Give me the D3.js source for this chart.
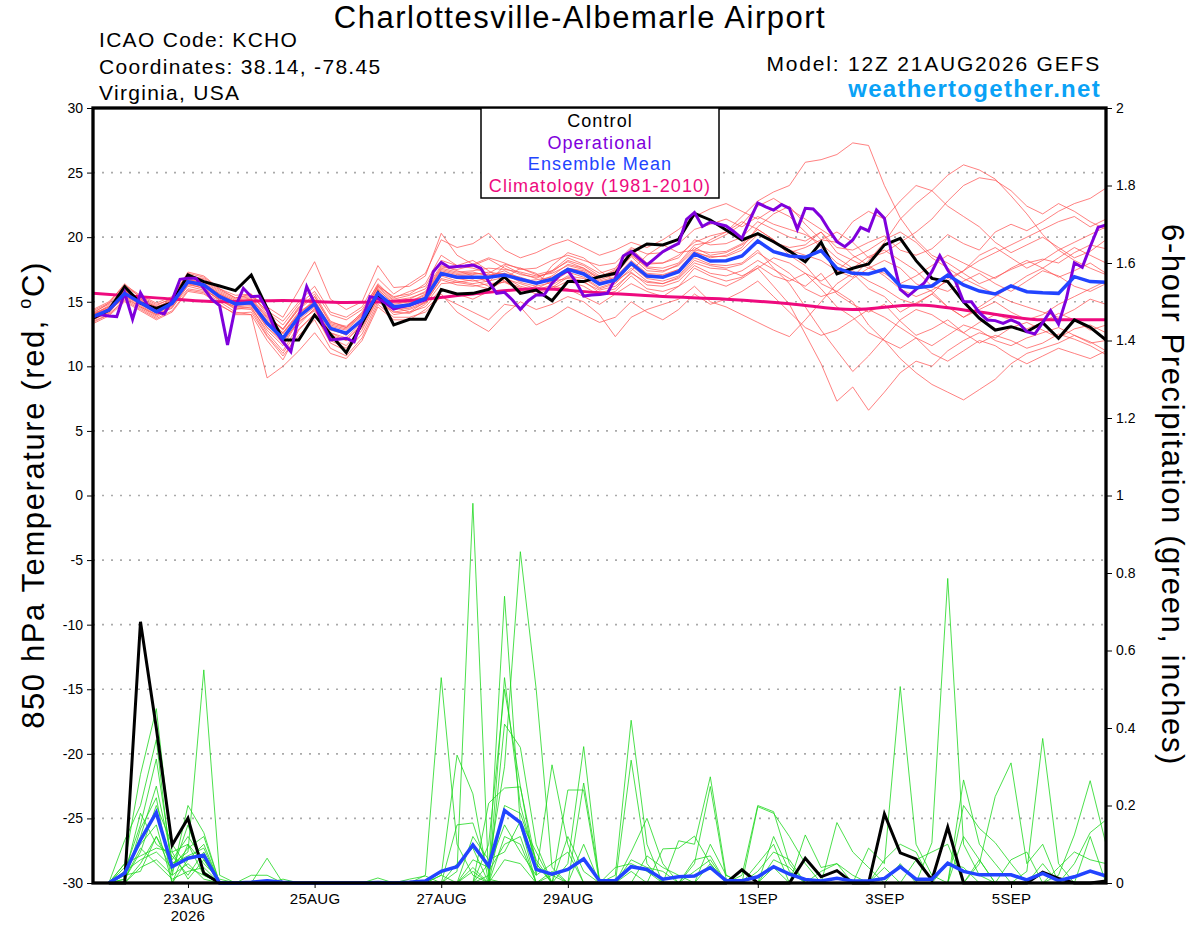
<!DOCTYPE html>
<html>
<head>
<meta charset="utf-8">
<title>KCHO GEFS meteogram</title>
<script src="https://d3js.org/d3.v7.min.js"></script>
<style>
  body { margin: 0; background: #fff; }
  svg text { font-family: "Liberation Sans", Arial, Helvetica, sans-serif; }
</style>
</head>
<body>
<svg id="chart" width="1200" height="927"></svg>
<script>
// ---- data ----
// 6-hourly from 12Z 21AUG2026 to 12Z 06SEP2026 (65 steps), operational 3-hourly (129 steps)
var tempTicks = [-30, -25, -20, -15, -10, -5, 0, 5, 10, 15, 20, 25, 30];
var precTicks = [0, 0.2, 0.4, 0.6, 0.8, 1, 1.2, 1.4, 1.6, 1.8, 2];
var dateTicks = ["2026-08-23", "2026-08-25", "2026-08-27", "2026-08-29", "2026-09-01", "2026-09-03", "2026-09-05"];

var controlTemp = [13.72,14.36,16.17,14.88,14.49,14.93,17.07,16.56,16.22,15.86,
  17.07,14.49,12.04,12.04,13.97,12.48,11.06,13.33,15.65,13.2,
  13.64,13.64,15.94,15.6,15.65,15.96,16.94,15.65,15.9,15.08,
  16.56,16.56,16.94,17.2,18.8,19.47,19.4,19.83,21.84,21.33,
  20.56,19.78,20.28,19.65,18.92,18.1,19.6,17.15,17.59,17.92,
  19.4,19.91,18.18,16.81,16.56,15.0,13.72,12.81,13.07,12.68,
  13.38,12.17,13.59,13.02,12.04];

var meanTemp = [13.85,14.36,15.65,14.93,14.23,14.88,16.56,16.3,15.39,14.83,
  14.93,13.33,12.17,13.85,14.83,12.94,12.56,13.59,15.65,14.62,
  14.75,15.26,17.18,16.9,16.89,16.89,17.07,16.74,16.43,16.74,
  17.51,17.15,16.37,16.68,17.98,16.99,16.89,17.33,18.7,18.15,
  18.18,18.54,19.7,18.88,18.54,18.44,18.96,17.59,17.2,17.15,
  17.51,16.22,16.09,16.22,17.07,16.3,15.83,15.6,16.22,15.78,
  15.7,15.65,16.94,16.56,16.51];

var operTemp = [13.85,14.0,13.9,13.85,15.7,13.64,15.7,14.62,14.23,14.05,
  15.14,16.74,16.81,16.81,16.04,15.19,14.7,11.65,14.62,16.04,
  15.39,15.44,14.36,12.81,11.9,11.13,13.85,16.17,14.88,13.33,
  12.04,12.1,12.17,11.9,13.59,15.39,15.26,14.88,14.44,14.62,
  14.75,14.93,15.14,17.33,18.05,17.67,17.72,17.77,17.85,17.59,
  16.56,15.65,15.73,15.14,14.41,15.08,15.52,15.52,16.43,17.07,
  17.41,16.56,15.44,15.52,15.57,15.65,16.81,18.54,18.88,18.36,
  17.85,18.36,18.88,19.21,19.52,21.38,21.9,20.82,21.17,21.02,
  20.87,20.42,19.91,21.33,22.65,22.35,22.1,22.53,22.23,20.61,
  22.23,22.18,21.54,20.56,19.65,19.26,19.78,20.76,20.48,22.1,
  21.46,18.49,15.96,15.44,15.96,16.43,17.33,18.57,17.46,16.56,
  15.0,15.0,14.15,13.59,13.54,13.33,13.59,13.33,12.68,12.5,
  13.38,14.31,13.28,15.26,18.02,17.67,19.26,20.76,20.95];

// daily (12Z) climatology
var climTemp = [15.65,15.3,15.0,15.1,14.95,15.1,15.6,16.0,15.7,15.4,15.2,14.85,14.4,14.75,14.2,13.6,13.6];

var tempMembers = [
  [14.2,14.8,16.0,15.2,14.6,15.1,17.0,16.8,15.9,15.3, 15.6,14.0,12.8,14.5,15.6,13.5,13.0,14.2,16.4,15.2,
   15.5,16.0,17.8,17.4,17.0,16.5,17.8,17.2,16.8,17.4, 18.1,17.6,16.9,17.5,18.8,17.9,18.0,18.6,19.6,20.1,
   20.4,21.6,22.8,23.5,24.0,25.8,26.0,26.4,27.3,27.1, 24.0,21.5,19.8,18.6,18.0,17.2,16.4,16.9,17.5,18.0,
   18.3,18.0,18.8,19.4,19.1],
  [13.5,14.0,15.2,14.5,13.8,14.6,16.0,15.8,15.0,14.2, 14.0,12.0,10.5,12.8,14.1,11.8,11.2,12.5,15.0,14.2,
   14.1,14.8,16.4,16.5,16.7,16.2,16.8,16.4,16.0,16.6, 16.8,16.5,15.9,16.2,17.2,16.5,16.4,16.8,18.0,17.6,
   17.5,17.0,17.6,16.2,14.8,12.5,10.2,7.3,8.4,6.6, 8.0,9.5,10.4,10.0,11.2,12.0,12.6,12.2,13.0,13.4,
   12.8,12.2,12.9,13.2,12.6],
  [14.0,14.6,15.9,15.0,14.5,15.0,16.8,16.4,15.6,15.0, 15.2,13.7,12.6,14.0,15.2,13.0,12.4,13.8,15.9,14.9,
   15.0,15.6,17.5,17.2,17.3,17.0,17.4,16.8,16.5,17.0, 17.9,17.6,16.7,17.1,18.5,17.4,17.3,17.9,19.2,18.6,
   18.8,19.4,20.3,19.6,19.0,18.6,18.2,17.4,16.9,18.2, 19.6,21.4,22.6,23.6,24.8,25.6,25.2,24.5,23.2,21.8,
   20.2,19.0,18.2,17.6,17.1],
  [13.6,14.2,15.5,14.7,14.0,14.5,16.3,16.1,15.1,14.6, 14.5,12.8,11.6,13.5,14.3,12.4,12.0,13.3,15.5,14.4,
   14.5,15.0,17.0,16.6,16.4,16.6,16.9,16.2,15.9,16.3, 17.0,16.8,16.0,16.4,17.6,16.6,16.4,16.9,18.2,17.8,
   17.6,17.9,18.8,18.0,17.2,16.0,15.4,15.8,15.0,13.2, 12.0,10.6,9.5,8.6,8.0,7.4,8.2,9.0,10.2,11.0,
   11.4,11.8,12.4,11.9,11.2],
  [14.4,15.0,16.3,15.5,14.9,15.4,17.2,16.9,16.0,15.5, 15.6,14.2,13.2,14.8,15.8,14.0,13.6,14.4,16.3,15.3,
   15.8,16.2,18.2,17.8,17.6,17.2,17.9,17.6,17.1,17.4, 18.4,17.9,17.2,17.6,19.1,18.0,18.0,18.4,19.8,19.4,
   19.5,20.0,21.2,20.6,20.0,19.7,20.4,19.2,19.0,19.6, 20.1,19.0,18.6,19.1,20.2,19.5,19.0,20.4,21.0,20.5,
   21.2,22.0,22.6,23.0,23.8],
  [13.8,14.3,15.4,14.6,13.9,14.7,16.2,15.9,15.2,14.4, 14.6,12.6,11.2,13.2,14.5,12.2,11.6,13.0,15.3,14.0,
   14.2,15.0,16.7,16.3,16.2,16.4,16.5,16.0,15.8,16.1, 16.9,16.6,15.7,16.0,17.3,16.3,16.2,16.6,17.8,17.2,
   17.0,17.4,18.2,17.5,16.8,16.2,17.2,15.6,14.8,14.2, 14.8,13.5,12.4,12.9,13.6,12.6,11.8,12.4,12.0,11.4,
   11.8,12.5,12.1,11.6,10.9],
  [13.3,13.9,15.0,14.3,13.6,14.2,15.8,15.6,14.8,14.0, 14.0,9.1,10.0,11.2,12.6,11.0,10.6,12.0,14.6,13.6,
   13.6,14.4,15.6,14.2,13.4,12.7,14.0,15.0,14.4,14.8, 15.4,15.0,14.0,12.3,13.8,14.4,14.8,15.2,16.2,15.0,
   14.6,14.0,13.4,12.8,12.3,13.6,15.0,16.4,17.2,16.0, 15.4,14.2,14.9,15.6,14.6,13.8,14.4,15.0,14.2,13.6,
   14.0,14.8,15.4,16.0,16.6],
  [14.3,14.9,16.4,15.3,14.7,15.3,17.3,17.0,16.0,15.3, 15.5,14.6,13.8,15.9,18.1,15.2,14.4,15.0,17.8,16.1,
   16.2,17.0,20.3,18.6,17.9,18.4,18.0,17.5,17.6,18.2, 18.6,18.2,17.8,18.0,19.2,18.7,18.8,19.5,20.6,21.0,
   21.4,20.8,21.6,21.0,20.6,20.2,19.5,18.4,17.6,18.5, 19.0,18.2,17.4,16.2,15.8,16.6,17.2,16.4,15.8,16.6,
   17.4,17.0,16.2,15.8,16.4],
  [13.9,14.5,15.8,15.1,14.3,14.8,16.5,16.2,15.5,14.9, 15.0,13.4,12.3,13.8,14.9,12.8,12.5,13.7,15.6,14.6,
   14.9,15.4,17.3,17.0,17.1,17.3,17.1,16.6,16.7,16.9, 17.6,17.3,16.5,16.8,18.1,17.1,17.0,17.5,18.9,18.4,
   18.6,19.2,20.8,21.8,22.4,21.0,19.8,19.6,21.2,22.0, 21.4,22.8,24.0,23.6,22.4,21.6,20.8,19.6,18.8,19.4,
   20.0,19.2,18.4,18.9,19.8],
  [13.7,14.1,15.6,14.8,14.1,14.9,16.7,16.4,15.3,14.7, 14.8,13.0,11.8,13.6,14.6,12.6,12.2,13.4,15.8,14.5,
   14.6,15.2,17.1,16.8,16.6,16.8,17.2,16.5,16.2,16.5, 17.3,16.9,16.1,16.5,17.8,16.8,16.6,17.0,18.4,17.9,
   17.8,18.0,19.0,17.6,16.4,14.6,12.8,11.2,9.6,10.8, 12.2,13.6,14.4,14.0,13.2,12.6,13.4,14.0,13.6,12.9,
   13.4,14.1,13.6,12.8,13.2],
  [14.1,14.6,15.7,15.0,14.4,14.9,16.6,16.2,15.5,14.9, 15.1,13.5,12.5,14.1,15.0,13.1,12.8,13.9,16.0,14.8,
   15.0,15.5,17.4,17.1,17.2,17.1,17.2,16.9,16.5,16.8, 17.6,17.4,16.6,16.9,18.2,17.2,17.1,17.5,18.8,18.5,
   18.5,19.0,20.2,19.6,19.2,19.4,20.4,18.8,18.2,17.6, 17.2,16.4,17.0,17.8,18.6,18.0,17.4,16.8,17.6,18.2,
   17.6,16.9,17.4,18.0,17.2],
  [13.9,14.4,15.6,14.9,14.3,15.0,16.7,16.5,15.6,15.0, 15.2,13.8,12.9,14.4,15.4,13.4,13.1,14.1,16.1,15.0,
   15.2,15.8,17.7,17.5,17.8,18.3,17.6,17.1,16.9,17.3, 18.2,17.8,17.0,17.3,18.6,17.7,17.6,18.0,19.4,19.6,
   20.2,21.0,22.4,23.0,22.2,21.4,20.6,19.8,18.6,17.8, 17.0,16.0,15.4,15.9,16.6,17.4,18.2,18.8,19.4,20.0,
   20.6,21.2,21.6,20.8,21.4],
  [13.6,14.3,15.3,14.6,14.0,14.8,16.4,16.0,15.1,14.5, 14.4,12.4,11.0,12.9,14.0,12.0,11.4,12.8,15.2,14.2,
   14.4,14.9,16.8,16.5,16.3,16.0,16.6,16.1,15.6,16.0, 16.6,16.2,15.5,15.8,17.0,16.0,15.8,16.2,17.6,17.0,
   16.6,16.9,17.8,17.0,16.6,17.2,16.0,14.6,13.8,12.6, 12.0,11.4,12.2,11.0,10.4,11.2,12.0,11.6,10.8,10.2,
   10.8,11.4,11.0,10.6,11.2],
  [14.0,14.7,15.8,15.1,14.5,15.2,16.9,16.6,15.7,15.1, 15.3,13.9,12.9,14.6,15.4,13.3,13.0,14.0,16.2,15.1,
   15.3,15.7,17.6,17.3,17.4,17.6,17.5,17.3,17.0,17.2, 17.8,17.5,16.8,17.4,18.7,17.6,17.4,17.8,19.0,18.8,
   18.9,19.5,20.6,19.8,18.8,19.2,19.8,20.4,19.6,18.4, 18.8,19.6,20.4,21.4,22.8,24.0,24.6,24.4,23.6,22.4,
   21.8,22.6,22.0,21.2,20.6],
  [14.1,14.9,16.2,15.4,14.8,15.2,17.1,16.7,15.8,15.2, 15.4,14.3,13.5,15.0,16.2,14.2,13.8,14.6,16.8,15.6,
   16.4,17.2,19.8,19.2,19.5,20.3,19.0,18.4,18.8,19.4, 19.8,19.2,18.6,19.0,19.6,19.2,19.8,20.6,21.6,22.2,
   22.6,22.0,21.4,22.2,21.6,20.4,19.2,18.0,17.4,16.6, 16.0,15.2,14.8,15.6,16.8,17.4,18.6,19.2,18.4,17.6,
   18.2,19.0,19.6,20.2,20.8],
  [13.4,14.0,15.1,14.4,13.7,14.3,15.9,15.7,14.7,14.1, 14.2,12.3,10.8,12.4,13.6,11.4,10.8,12.2,14.8,13.8,
   13.8,14.2,15.4,14.8,14.2,13.6,14.8,14.6,13.2,13.8, 14.6,14.0,13.4,13.8,15.0,14.2,13.6,14.4,15.6,14.8,
   15.2,15.8,16.6,15.4,14.2,13.0,12.4,12.8,13.6,14.4, 13.8,13.0,12.2,11.6,12.4,13.2,12.8,12.0,11.6,12.2,
   12.6,13.0,12.4,11.8,12.0],
  [14.0,14.5,15.9,15.2,14.6,15.0,16.6,16.4,15.4,14.8, 14.9,13.6,12.6,14.2,15.0,13.2,12.9,14.0,16.2,15.4,
   15.6,16.4,18.6,17.8,18.2,17.4,16.6,15.8,16.2,17.8, 18.8,18.4,17.4,16.6,17.4,18.6,19.4,18.8,19.0,19.8,
   20.4,21.2,20.6,19.8,18.6,17.8,16.4,15.8,16.8,17.6, 18.2,17.6,16.4,15.8,14.6,13.8,14.6,15.4,16.2,17.0,
   17.6,18.4,19.2,18.6,18.0],
  [13.6,14.2,15.4,14.9,14.2,14.7,16.4,16.2,15.2,14.6, 14.7,13.0,12.0,13.4,14.4,12.6,12.0,13.2,15.4,14.6,
   14.2,14.6,16.0,15.6,15.2,15.8,16.8,17.6,17.2,16.2, 16.0,15.4,14.8,15.6,16.4,15.8,15.4,16.2,17.0,16.6,
   16.2,16.8,17.6,18.4,18.0,17.2,16.6,17.4,18.4,19.0, 19.8,20.4,19.6,18.4,17.6,16.8,16.2,15.6,15.0,14.6,
   14.2,13.8,14.4,15.2,14.8]
];

// 6-hour precipitation (inches); first step has no accumulation
var controlPrec = [null,0,0,0.674,0.40,0.098,0.167,0.025,0,0,0,0,0,
  0,0,0,0,0,0,0,0,0,0,0,0,0,
  0,0,0,0,0,0,0,0,0,0,0,0,0,
  0,0,0.034,0,0,0,0.064,0.016,0.032,0,0,0.178,0.078,
  0.062,0.008,0.144,0,0,0,0,0,0.028,0.012,0,0,0.005];

var meanPrec = [null,0,0.025,0.111,0.182,0.042,0.064,0.072,0,0,0.002,0.006,0.002,
  0,0,0,0,0,0.001,0,0.002,0.005,0.03,0.042,0.098,0.044,
  0.187,0.156,0.035,0.023,0.035,0.062,0.006,0.006,0.042,0.035,0.01,0.016,0.018,
  0.04,0.006,0.006,0.016,0.042,0.023,0.009,0.005,0.012,0.005,0.005,0.012,0.042,
  0.01,0.01,0.051,0.03,0.021,0.021,0.021,0.008,0.025,0.006,0.016,0.031,0.018];

var precMembers = [
  [null,0,0.05,0.28,0.45,0.08,0.1,0.05,0.01,0,0,0,0,
   0,0,0,0,0,0,0,0,0.02,0.53,0.1,0.02,0,
   0,0,0,0,0,0,0,0.02,0.42,0.1,0,0,0,
   0,0,0,0,0,0,0.124,0.04,0.05,0.02,0,0,0,
   0,0,0,0,0,0,0,0,0,0,0,0,0],
  [null,0,0.11,0.2,0.37,0.02,0.2,0.13,0,0,0,0,0.01,
   0,0,0,0,0,0,0,0,0,0,0.03,0.98,0.01,
   0,0,0,0,0,0,0,0,0.317,0.05,0,0,0,
   0,0,0,0,0,0,0,0,0.156,0.08,0.04,0,0,
   0,0,0,0,0,0,0,0,0,0,0,0,0],
  [null,0,0.03,0.15,0.32,0.05,0.08,0.55,0.02,0,0,0,0,
   0,0,0,0,0,0,0,0,0,0,0,0,0.02,
   0.74,0.15,0,0,0,0,0,0,0.08,0.167,0.05,0,0,
   0,0,0,0,0,0,0,0,0,0,0.09,0.05,0.507,
   0.1,0.02,0,0,0,0,0,0,0,0,0,0,0],
  [null,0,0.02,0.12,0.25,0.06,0.12,0.06,0,0,0,0,0,
   0,0,0,0,0,0,0,0,0,0,0,0,0.05,
   0.3,0.855,0.5,0.04,0,0,0,0,0,0,0.088,0.09,0.121,
   0.05,0,0,0,0,0,0,0,0,0,0,0,0,
   0,0.104,0.786,0.1,0.02,0,0,0,0,0,0,0,0],
  [null,0,0.01,0.08,0.2,0.1,0.04,0.02,0,0,0,0.064,0,
   0,0,0,0,0,0,0,0,0,0.02,0.33,0.23,0,
   0.53,0.2,0.05,0,0,0,0,0,0,0,0,0.109,0.1,
   0.274,0.02,0,0,0,0,0,0,0,0,0,0,0,
   0,0,0,0.266,0.1,0.05,0,0,0,0,0,0,0],
  [null,0,0.04,0.1,0.15,0,0.06,0.1,0,0,0,0,0,
   0,0,0,0,0,0,0,0,0,0,0,0,0.1,
   0.5,0.25,0.02,0.305,0.1,0,0,0,0,0,0,0,0.05,
   0.249,0.01,0,0,0,0,0,0,0,0,0,0,0,
   0,0,0,0.2,0.141,0.104,0.05,0,0,0,0,0,0],
  [null,0,0,0.05,0.12,0.03,0.15,0.03,0,0,0.02,0.02,0,
   0,0,0,0,0,0,0,0,0,0,0,0,0,
   0.41,0.35,0.1,0,0.05,0.352,0,0,0,0,0,0,0,
   0,0,0.02,0.2,0.184,0.05,0,0,0,0,0,0,0,
   0,0,0,0,0.05,0.223,0.31,0.05,0.1,0,0,0,0],
  [null,0,0.02,0.18,0.1,0.07,0.02,0.08,0,0,0,0,0,
   0,0,0,0,0,0,0,0,0,0,0,0,0.206,
   0.245,0.248,0.05,0,0.24,0.24,0,0,0,0,0,0,0,
   0,0,0,0.197,0.18,0.12,0.05,0,0,0,0,0,0,
   0,0,0,0,0,0,0,0.03,0.373,0.05,0,0,0],
  [null,0,0.03,0.06,0.08,0.04,0.09,0.12,0,0,0,0,0,
   0,0,0,0,0,0.013,0,0,0,0,0.15,0.155,0.03,
   0.1,0.12,0,0,0,0.258,0.01,0,0.06,0.04,0.03,0,0,
   0.05,0,0,0,0,0,0,0,0,0,0,0,0,
   0,0,0,0,0,0,0,0,0,0.02,0.124,0.264,0.1],
  [null,0,0,0.04,0.06,0.02,0.05,0.01,0,0,0,0,0,
   0,0,0,0,0,0,0,0,0,0,0,0.06,0.04,
   0.15,0.08,0.02,0.05,0.08,0,0,0,0,0.07,0.04,0.02,0,
   0,0,0,0.05,0.1,0,0,0,0,0,0,0,0,
   0,0,0,0,0,0,0,0,0,0,0.05,0.13,0.163],
  [null,0,0.01,0.09,0.05,0.01,0.03,0.04,0,0,0,0,0,
   0,0,0,0,0,0,0,0.01,0.018,0,0.05,0.09,0,
   0.2,0.18,0.06,0,0.12,0.03,0,0,0.03,0,0,0,0.06,
   0.07,0,0,0,0.06,0.04,0,0,0,0,0,0.06,0.1,
   0.08,0,0.05,0.04,0,0,0,0,0,0,0,0,0],
  [null,0,0.02,0.03,0.12,0.05,0.07,0.09,0,0,0,0,0,
   0,0,0,0,0,0,0,0,0,0.02,0,0.04,0,
   0.12,0.1,0,0.02,0,0.1,0,0.04,0.05,0.03,0,0,0,
   0,0,0,0.03,0.08,0.06,0,0,0,0,0,0,0,
   0.06,0.08,0.1,0,0.06,0,0,0,0.05,0,0,0,0],
  [null,0,0,0.14,0.22,0,0.1,0.02,0,0,0,0,0,
   0,0,0,0,0,0,0,0,0,0,0,0.12,0.06,
   0.08,0.16,0.08,0,0,0,0,0,0,0,0,0,0,
   0.1,0.02,0,0,0.04,0,0,0.03,0.05,0,0,0.04,0,
   0,0,0,0,0,0,0.06,0.08,0,0,0,0.12,0],
  [null,0,0.05,0.07,0.09,0.08,0.01,0.06,0,0,0,0,0,
   0,0,0,0,0,0,0,0,0,0,0,0.03,0,
   0.06,0.05,0,0.03,0,0,0,0,0,0,0,0,0.03,
   0.06,0,0,0,0.12,0.03,0,0,0,0,0,0,0.05,
   0,0,0,0.12,0.06,0,0,0,0,0.04,0.08,0.06,0.05]
];

// ---- layout ----
var svg = d3.select("#chart");
var plotL = 93, plotR = 1106, plotT = 108, plotB = 883;

var t0 = new Date(Date.UTC(2026, 7, 21, 12));
var t1 = new Date(Date.UTC(2026, 8, 6, 12));
var times6 = d3.utcHour.every(6).range(t0, d3.utcHour.offset(t1, 1));
var times3 = d3.utcHour.every(3).range(t0, d3.utcHour.offset(t1, 1));
var timesDaily = times6.filter(function(d, i) { return i % 4 === 0; });

var x = d3.scaleUtc().domain([t0, t1]).range([plotL, plotR]);
var yT = d3.scaleLinear().domain([-30, 30]).range([plotB, plotT]);
var yP = d3.scaleLinear().domain([0, 2]).range([plotB, plotT]);

svg.append("rect").attr("width", 1200).attr("height", 927).attr("fill", "#fff");

// grid lines (dotted)
svg.append("g").selectAll("line")
  .data(tempTicks.slice(1, -1))
  .enter().append("line")
  .attr("x1", plotL).attr("x2", plotR)
  .attr("y1", function(d) { return yT(d); })
  .attr("y2", function(d) { return yT(d); })
  .attr("stroke", "#aaa").attr("stroke-width", 1.6)
  .attr("stroke-dasharray", "2,7");

// line builders
function lineOn(times, yscale) {
  return d3.line()
    .defined(function(d) { return d != null; })
    .x(function(d, i) { return x(times[i]); })
    .y(function(d) { return yscale(d); });
}
var tLine = lineOn(times6, yT);
var pLine = lineOn(times6, yP);

// ensemble members
svg.append("g").selectAll("path").data(tempMembers).enter().append("path")
  .attr("d", tLine).attr("fill", "none")
  .attr("stroke", "#ff5050").attr("stroke-width", 0.8).attr("stroke-opacity", 0.9);

svg.append("g").selectAll("path").data(precMembers).enter().append("path")
  .attr("d", pLine).attr("fill", "none")
  .attr("stroke", "#1ed81e").attr("stroke-width", 0.8);

// climatology
svg.append("path").datum(climTemp)
  .attr("d", d3.line().curve(d3.curveMonotoneX)
    .x(function(d, i) { return x(timesDaily[i]); })
    .y(function(d) { return yT(d); }))
  .attr("fill", "none").attr("stroke", "#ee0a7e").attr("stroke-width", 3);

// control
svg.append("path").datum(controlTemp).attr("d", tLine)
  .attr("fill", "none").attr("stroke", "#000").attr("stroke-width", 3);
svg.append("path").datum(controlPrec).attr("d", pLine)
  .attr("fill", "none").attr("stroke", "#000").attr("stroke-width", 3);

// operational
svg.append("path").datum(operTemp).attr("d", lineOn(times3, yT))
  .attr("fill", "none").attr("stroke", "#7f00dc").attr("stroke-width", 3);

// ensemble mean
svg.append("path").datum(meanTemp).attr("d", tLine)
  .attr("fill", "none").attr("stroke", "#2244ff").attr("stroke-width", 3.5);
svg.append("path").datum(meanPrec).attr("d", pLine)
  .attr("fill", "none").attr("stroke", "#2244ff").attr("stroke-width", 3.5);

// frame
svg.append("rect")
  .attr("x", plotL).attr("y", plotT)
  .attr("width", plotR - plotL).attr("height", plotB - plotT)
  .attr("fill", "none").attr("stroke", "#000").attr("stroke-width", 3.3);

// axes
var gL = svg.append("g").attr("transform", "translate(" + (plotL - 1) + ",0)")
  .call(d3.axisLeft(yT).tickValues(tempTicks).tickSize(5).tickPadding(4)
    .tickFormat(function(d) { return String(d); }));
var gR = svg.append("g").attr("transform", "translate(" + (plotR + 1) + ",0)")
  .call(d3.axisRight(yP).tickValues(precTicks).tickSize(5).tickPadding(4)
    .tickFormat(d3.format("~g")));
var parseDay = d3.utcParse("%Y-%m-%d");
var gB = svg.append("g").attr("transform", "translate(0," + (plotB + 1) + ")")
  .call(d3.axisBottom(x).tickValues(dateTicks.map(parseDay)).tickSize(4).tickPadding(5)
    .tickFormat(function(d) { return d3.utcFormat("%-d%b")(d).toUpperCase(); }));
[gL, gR, gB].forEach(function(g) {
  g.select(".domain").remove();
  g.selectAll("line").attr("stroke", "#000").attr("stroke-width", 1);
  g.selectAll("text").attr("font-family", "Liberation Sans, Arial, sans-serif").attr("fill", "#000");
});
gL.selectAll("text").attr("font-size", 14);
gR.selectAll("text").attr("font-size", 14);
gB.selectAll("text").attr("font-size", 15).attr("letter-spacing", 0.3);
svg.append("text")
  .attr("x", x(parseDay(dateTicks[0]))).attr("y", 921)
  .attr("text-anchor", "middle").attr("font-size", 15).attr("letter-spacing", 0.3)
  .text("2026");

// axis titles
var lt = svg.append("text")
  .attr("transform", "translate(44,495) rotate(-90)")
  .attr("text-anchor", "middle").attr("font-size", 31).attr("letter-spacing", 1.6);
lt.append("tspan").text("850 hPa Temperature (red, ");
lt.append("tspan").attr("font-size", 18).attr("dy", -13).text("o");
lt.append("tspan").attr("dy", 13).text("C)");

svg.append("text")
  .attr("transform", "translate(1162,495) rotate(90)")
  .attr("text-anchor", "middle").attr("font-size", 31).attr("letter-spacing", 1.6)
  .text("6-hour Precipitation (green, inches)");

// header
svg.append("text").attr("x", 580).attr("y", 28).attr("text-anchor", "middle")
  .attr("font-size", 31).attr("letter-spacing", 1.5)
  .text("Charlottesville-Albemarle Airport");
var info = ["ICAO Code: KCHO", "Coordinates: 38.14, -78.45", "Virginia, USA"];
svg.append("g").selectAll("text").data(info).enter().append("text")
  .attr("x", 99).attr("y", function(d, i) { return 47 + i * 26.5; })
  .attr("font-size", 21).attr("letter-spacing", 1.3)
  .text(function(d) { return d; });
svg.append("text").attr("x", 1101).attr("y", 71).attr("text-anchor", "end")
  .attr("font-size", 21).attr("letter-spacing", 1.8)
  .text("Model: 12Z 21AUG2026 GEFS");
svg.append("text").attr("x", 1101).attr("y", 97).attr("text-anchor", "end")
  .attr("font-size", 24).attr("font-weight", "bold").attr("letter-spacing", 1.3)
  .attr("fill", "#0aa2f6")
  .text("weathertogether.net");

// legend
var legendItems = [
  { label: "Control", color: "#000" },
  { label: "Operational", color: "#7f00dc" },
  { label: "Ensemble Mean", color: "#2244ff" },
  { label: "Climatology (1981-2010)", color: "#ee0a7e" }
];
svg.append("rect").attr("x", 481).attr("y", plotT).attr("width", 238).attr("height", 90)
  .attr("fill", "#fff").attr("stroke", "#000").attr("stroke-width", 1.5);
svg.append("g").selectAll("text").data(legendItems).enter().append("text")
  .attr("x", 600).attr("y", function(d, i) { return 127 + i * 21.5; })
  .attr("text-anchor", "middle").attr("font-size", 18).attr("letter-spacing", 1.1)
  .attr("fill", function(d) { return d.color; })
  .text(function(d) { return d.label; });
</script>
</body>
</html>
